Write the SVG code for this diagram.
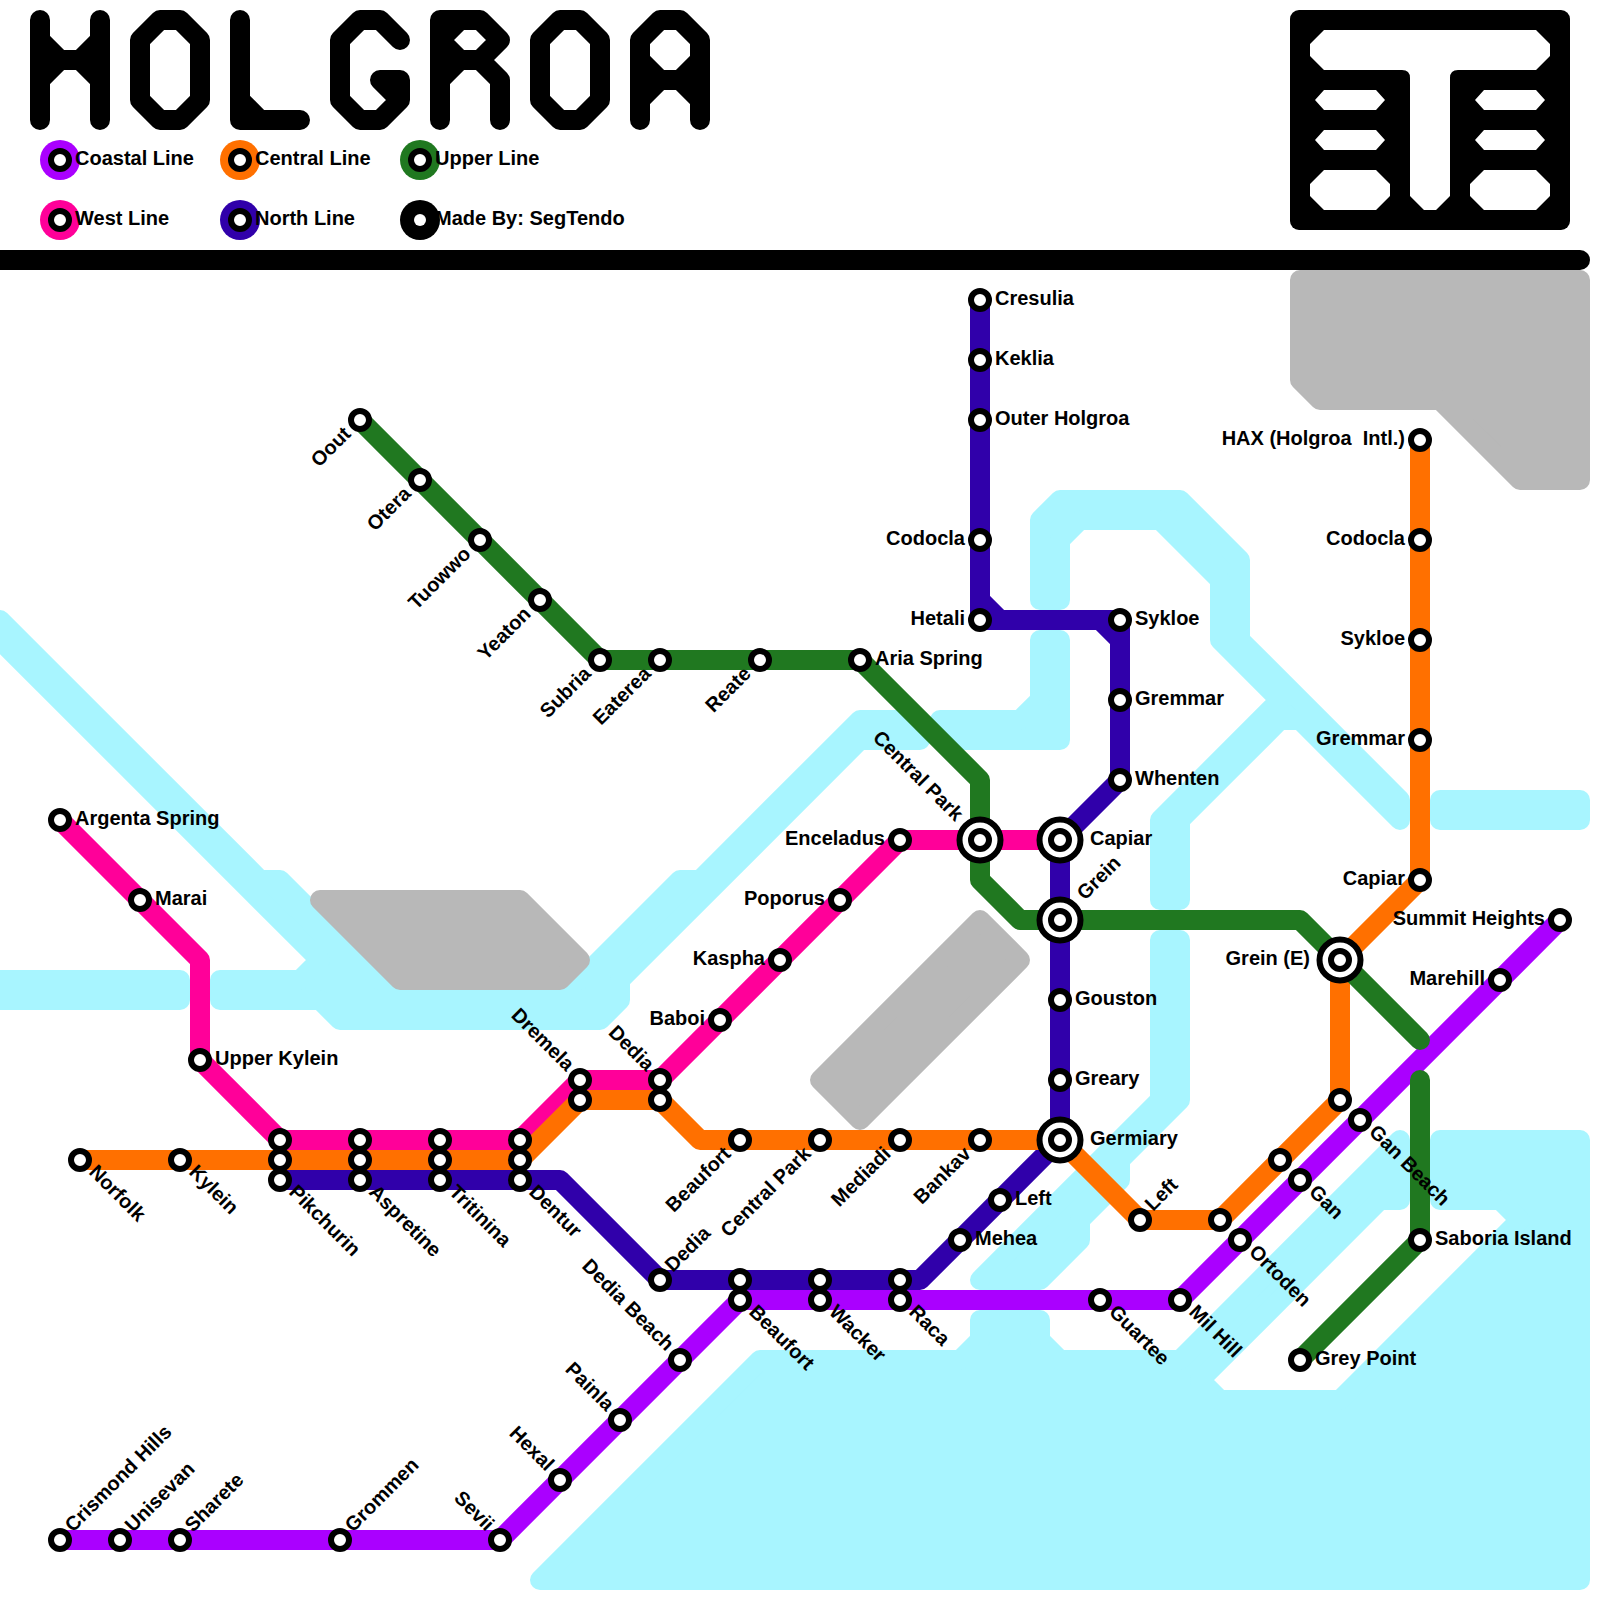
<svg xmlns="http://www.w3.org/2000/svg" width="1600" height="1600" viewBox="0 0 1600 1600">
<style>
text{font-family:"Liberation Sans",Arial,sans-serif;font-weight:bold;font-size:20px;fill:#000;white-space:pre}
.e{text-anchor:end}
.w{fill:#A8F5FF;stroke:#A8F5FF;stroke-width:20;stroke-linejoin:round}
.g{fill:#B8B8B8;stroke:#B8B8B8;stroke-width:20;stroke-linejoin:round}
.l{fill:none;stroke-width:20;stroke-linejoin:round;stroke-linecap:round}
.t{fill:none;stroke:#000;stroke-width:20;stroke-linejoin:round;stroke-linecap:round}
.s{fill:#fff;stroke:#000;stroke-width:6}
.b{fill:#fff;stroke:#000;stroke-width:6}
.cp{stroke:#AA00FF}.co{stroke:#FF7000}.cg{stroke:#207820}.cw{stroke:#FF0099}.cn{stroke:#3000AA}
</style>
<defs>
<circle id="st" class="s" r="9"/>
<g id="big"><circle class="b" r="20.5"/><circle class="s" r="9"/></g>
</defs>
<g id="water">
<path class="w" d="M0 620L260 880H280L380 980H580L680 880H700L860 720H920V740H860L620 980V1000L600 1020H340L320 1000H220V980H300L320 960L0 640Z"/>
<path class="w" d="M-20 980H180V1000H-20Z"/>
<path class="w" d="M1040 520L1060 500H1180L1240 560V640L1400 800V820L1300 720H1280L1180 820V900H1160V820L1280 700L1220 640V580L1160 520H1080L1060 540V600H1040Z"/>
<path class="w" d="M1040 640H1060V740H960L940 720H1020L1040 700Z"/>
<path class="w" d="M1440 800H1580V820H1440Z"/>
<path class="w" d="M1160 940H1180V1100L1120 1160V1180L1080 1220V1240L1040 1280H980L1160 1100Z"/>
<path class="w" d="M540 1580L760 1360H960L980 1340V1320H1040V1340L1060 1360H1180L1400 1140V1200H1380L1200 1380L1220 1400H1340L1520 1220L1500 1200H1440V1140H1580V1580Z"/>
</g>
<g id="land">
<path class="g" d="M1300 280H1580V480H1520L1440 400H1320L1300 380Z"/>
<path class="g" d="M320 900H520L580 960L560 980H400Z"/>
<path class="g" d="M980 920L1020 960L860 1120L820 1080Z"/>
</g>
<g id="title">
<path class="t" d="M40 20V120M100 20V120M40 60H100M40 40L60 60H80L100 40M40 80L60 60M80 60L100 80"/>
<path class="t" d="M140 40L160 20H180L200 40V100L180 120H160L140 100Z"/>
<path class="t" d="M240 20V120H300M240 100L260 120"/>
<path class="t" d="M400 40L380 20H360L340 40V100L360 120H380L400 100V80H380L400 100"/>
<path class="t" d="M440 120V20H480L500 40L480 60L500 80V120M440 60H480M440 40L460 20M440 40L460 60M440 80L460 60"/>
<path class="t" d="M540 40L560 20H580L600 40V100L580 120H560L540 100Z"/>
<path class="t" d="M640 120V40L660 20H680L700 40V120M640 80H700M640 60L660 80M700 60L680 80M640 100L660 80M700 100L680 80"/>
</g>
<g id="logo">
<rect x="1290" y="10" width="280" height="220" rx="9" fill="#000"/>
<path fill="#fff" d="M1324 30H1536L1550 44V56L1536 70H1458Q1450 70 1450 78V196L1436 210H1424L1410 196V78Q1410 70 1402 70H1324L1310 56V44Z"/>
<path fill="#fff" d="M1324 90H1376L1385 100L1376 110H1324L1315 100ZM1324 130H1376L1385 140L1376 150H1324L1315 140ZM1324 170H1376L1390 184V196L1376 210H1324L1310 196V184ZM1484 90H1536L1545 100L1536 110H1484L1475 100ZM1484 130H1536L1545 140L1536 150H1484L1475 140ZM1484 170H1536L1550 184V196L1536 210H1484L1470 196V184Z"/>
</g>
<path id="divider" class="t" d="M-20 260H1580"/>
<g id="legend">
<g id="legend-coastal"><circle cx="60" cy="160" r="20" fill="#AA00FF"/><use href="#st" x="60" y="160"/><text x="75" y="165">Coastal Line</text></g>
<g id="legend-central"><circle cx="240" cy="160" r="20" fill="#FF7000"/><use href="#st" x="240" y="160"/><text x="255" y="165">Central Line</text></g>
<g id="legend-upper"><circle cx="420" cy="160" r="20" fill="#207820"/><use href="#st" x="420" y="160"/><text x="435" y="165">Upper Line</text></g>
<g id="legend-west"><circle cx="60" cy="220" r="20" fill="#FF0099"/><use href="#st" x="60" y="220"/><text x="75" y="225">West Line</text></g>
<g id="legend-north"><circle cx="240" cy="220" r="20" fill="#3000AA"/><use href="#st" x="240" y="220"/><text x="255" y="225">North Line</text></g>
<g id="legend-credit"><circle cx="420" cy="220" r="20" fill="#000"/><circle cx="420" cy="220" r="6" fill="#fff"/><text x="435" y="225">Made By: SegTendo</text></g>
</g>
<g id="connectors">
<path id="north-line" class="l cn" d="M980 300V600L1000 620H1100L1120 640V780L1060 840V1140L920 1280H660L560 1180H280M980 600V620H1000M1100 620H1120V640"/>
<path id="west-line" class="l cw" d="M60 820L200 960V1060L280 1140H520L580 1080H660L900 840H1060"/>
<path id="central-line" class="l co" d="M80 1160H520L580 1100H660L700 1140H1060L1140 1220H1220L1340 1100V960L1420 880V440"/>
<path id="coastal-line" class="l cp" d="M60 1540H500L740 1300H1180L1560 920"/>
<path id="upper-line" class="l cg" d="M360 420L600 660H860L980 780V880L1020 920H1300L1420 1040M1420 1080V1240L1300 1360"/>
</g>
<g id="stations">
<g id="coastal-crismond-hills"><use href="#st" x="60" y="1540"/><text transform="translate(73 1533) rotate(-45)">Crismond Hills</text></g>
<g id="coastal-unisevan"><use href="#st" x="120" y="1540"/><text transform="translate(133 1533) rotate(-45)">Unisevan</text></g>
<g id="coastal-sharete"><use href="#st" x="180" y="1540"/><text transform="translate(193 1533) rotate(-45)">Sharete</text></g>
<g id="coastal-grommen"><use href="#st" x="340" y="1540"/><text transform="translate(353 1533) rotate(-45)">Grommen</text></g>
<g id="coastal-sevii"><use href="#st" x="500" y="1540"/><text class="e" transform="translate(486 1532) rotate(45)">Sevii</text></g>
<g id="coastal-hexal"><use href="#st" x="560" y="1480"/><text class="e" transform="translate(546 1472) rotate(45)">Hexal</text></g>
<g id="coastal-painla"><use href="#st" x="620" y="1420"/><text class="e" transform="translate(606 1412) rotate(45)">Painla</text></g>
<g id="coastal-dedia-beach"><use href="#st" x="680" y="1360"/><text class="e" transform="translate(666 1352) rotate(45)">Dedia Beach</text></g>
<g id="coastal-beaufort"><use href="#st" x="740" y="1300"/><text transform="translate(748 1313) rotate(45)">Beaufort</text></g>
<g id="coastal-wacker"><use href="#st" x="820" y="1300"/><text transform="translate(828 1313) rotate(45)">Wacker</text></g>
<g id="coastal-raca"><use href="#st" x="900" y="1300"/><text transform="translate(908 1313) rotate(45)">Raca</text></g>
<g id="coastal-guartee"><use href="#st" x="1100" y="1300"/><text transform="translate(1108 1313) rotate(45)">Guartee</text></g>
<g id="coastal-mil-hill"><use href="#st" x="1180" y="1300"/><text transform="translate(1188 1313) rotate(45)">Mil Hill</text></g>
<g id="coastal-ortoden"><use href="#st" x="1240" y="1240"/><text transform="translate(1248 1253) rotate(45)">Ortoden</text></g>
<g id="coastal-gan"><use href="#st" x="1300" y="1180"/><text transform="translate(1308 1193) rotate(45)">Gan</text></g>
<g id="coastal-gan-beach"><use href="#st" x="1360" y="1120"/><text transform="translate(1368 1133) rotate(45)">Gan Beach</text></g>
<g id="coastal-marehill"><use href="#st" x="1500" y="980"/><text class="e" x="1485" y="985">Marehill</text></g>
<g id="coastal-summit-heights"><use href="#st" x="1560" y="920"/><text class="e" x="1545" y="925">Summit Heights</text></g>

<g id="central-norfolk"><use href="#st" x="80" y="1160"/><text transform="translate(88 1173) rotate(45)">Norfolk</text></g>
<g id="central-kylein"><use href="#st" x="180" y="1160"/><text transform="translate(188 1173) rotate(45)">Kylein</text></g>
<g id="central-pikchurin"><use href="#st" x="280" y="1160"/></g>
<g id="central-aspretine"><use href="#st" x="360" y="1160"/></g>
<g id="central-tritinina"><use href="#st" x="440" y="1160"/></g>
<g id="central-dentur"><use href="#st" x="520" y="1160"/></g>
<g id="central-dremela"><use href="#st" x="580" y="1100"/></g>
<g id="central-dedia"><use href="#st" x="660" y="1100"/></g>
<g id="central-beaufort"><use href="#st" x="740" y="1140"/><text class="e" transform="translate(732 1155) rotate(-45)">Beaufort</text></g>
<g id="central-central-park"><use href="#st" x="820" y="1140"/><text class="e" transform="translate(812 1155) rotate(-45)">Central Park</text></g>
<g id="central-mediadi"><use href="#st" x="900" y="1140"/><text class="e" transform="translate(892 1155) rotate(-45)">Mediadi</text></g>
<g id="central-bankav"><use href="#st" x="980" y="1140"/><text class="e" transform="translate(972 1155) rotate(-45)">Bankav</text></g>
<g id="central-left"><use href="#st" x="1140" y="1220"/><text transform="translate(1153 1212) rotate(-45)">Left</text></g>
<g id="central-a"><use href="#st" x="1220" y="1220"/></g>
<g id="central-b"><use href="#st" x="1280" y="1160"/></g>
<g id="central-c"><use href="#st" x="1340" y="1100"/></g>
<g id="central-capiar"><use href="#st" x="1420" y="880"/><text class="e" x="1405" y="885">Capiar</text></g>
<g id="central-gremmar"><use href="#st" x="1420" y="740"/><text class="e" x="1405" y="745">Gremmar</text></g>
<g id="central-sykloe"><use href="#st" x="1420" y="640"/><text class="e" x="1405" y="645">Sykloe</text></g>
<g id="central-codocla"><use href="#st" x="1420" y="540"/><text class="e" x="1405" y="545">Codocla</text></g>
<g id="central-hax"><use href="#st" x="1420" y="440"/><text class="e" x="1405" y="445" xml:space="preserve">HAX (Holgroa  Intl.)</text></g>

<g id="west-argenta-spring"><use href="#st" x="60" y="820"/><text x="75" y="825">Argenta Spring</text></g>
<g id="west-marai"><use href="#st" x="140" y="900"/><text x="155" y="905">Marai</text></g>
<g id="west-upper-kylein"><use href="#st" x="200" y="1060"/><text x="215" y="1065">Upper Kylein</text></g>
<g id="west-pikchurin"><use href="#st" x="280" y="1140"/></g>
<g id="west-aspretine"><use href="#st" x="360" y="1140"/></g>
<g id="west-tritinina"><use href="#st" x="440" y="1140"/></g>
<g id="west-dentur"><use href="#st" x="520" y="1140"/></g>
<g id="west-dremela"><use href="#st" x="580" y="1080"/><text class="e" transform="translate(566 1072) rotate(45)">Dremela</text></g>
<g id="west-dedia"><use href="#st" x="660" y="1080"/><text class="e" transform="translate(646 1072) rotate(45)">Dedia</text></g>
<g id="west-baboi"><use href="#st" x="720" y="1020"/><text class="e" x="705" y="1025">Baboi</text></g>
<g id="west-kaspha"><use href="#st" x="780" y="960"/><text class="e" x="765" y="965">Kaspha</text></g>
<g id="west-poporus"><use href="#st" x="840" y="900"/><text class="e" x="825" y="905">Poporus</text></g>
<g id="west-enceladus"><use href="#st" x="900" y="840"/><text class="e" x="885" y="845">Enceladus</text></g>

<g id="north-cresulia"><use href="#st" x="980" y="300"/><text x="995" y="305">Cresulia</text></g>
<g id="north-keklia"><use href="#st" x="980" y="360"/><text x="995" y="365">Keklia</text></g>
<g id="north-outer-holgroa"><use href="#st" x="980" y="420"/><text x="995" y="425">Outer Holgroa</text></g>
<g id="north-codocla"><use href="#st" x="980" y="540"/><text class="e" x="965" y="545">Codocla</text></g>
<g id="north-hetali"><use href="#st" x="980" y="620"/><text class="e" x="965" y="625">Hetali</text></g>
<g id="north-sykloe"><use href="#st" x="1120" y="620"/><text x="1135" y="625">Sykloe</text></g>
<g id="north-gremmar"><use href="#st" x="1120" y="700"/><text x="1135" y="705">Gremmar</text></g>
<g id="north-whenten"><use href="#st" x="1120" y="780"/><text x="1135" y="785">Whenten</text></g>
<g id="north-gouston"><use href="#st" x="1060" y="1000"/><text x="1075" y="1005">Gouston</text></g>
<g id="north-greary"><use href="#st" x="1060" y="1080"/><text x="1075" y="1085">Greary</text></g>
<g id="north-left"><use href="#st" x="1000" y="1200"/><text x="1015" y="1205">Left</text></g>
<g id="north-mehea"><use href="#st" x="960" y="1240"/><text x="975" y="1245">Mehea</text></g>
<g id="north-raca"><use href="#st" x="900" y="1280"/></g>
<g id="north-wacker"><use href="#st" x="820" y="1280"/></g>
<g id="north-beaufort"><use href="#st" x="740" y="1280"/></g>
<g id="north-dedia"><use href="#st" x="660" y="1280"/><text transform="translate(673 1273) rotate(-45)">Dedia</text></g>
<g id="north-dentur"><use href="#st" x="520" y="1180"/><text transform="translate(528 1193) rotate(45)">Dentur</text></g>
<g id="north-tritinina"><use href="#st" x="440" y="1180"/><text transform="translate(448 1193) rotate(45)">Tritinina</text></g>
<g id="north-aspretine"><use href="#st" x="360" y="1180"/><text transform="translate(368 1193) rotate(45)">Aspretine</text></g>
<g id="north-pikchurin"><use href="#st" x="280" y="1180"/><text transform="translate(288 1193) rotate(45)">Pikchurin</text></g>

<g id="upper-oout"><use href="#st" x="360" y="420"/><text class="e" transform="translate(352 435) rotate(-45)">Oout</text></g>
<g id="upper-otera"><use href="#st" x="420" y="480"/><text class="e" transform="translate(412 495) rotate(-45)">Otera</text></g>
<g id="upper-tuowwo"><use href="#st" x="480" y="540"/><text class="e" transform="translate(472 555) rotate(-45)">Tuowwo</text></g>
<g id="upper-yeaton"><use href="#st" x="540" y="600"/><text class="e" transform="translate(532 615) rotate(-45)">Yeaton</text></g>
<g id="upper-subria"><use href="#st" x="600" y="660"/><text class="e" transform="translate(592 675) rotate(-45)">Subria</text></g>
<g id="upper-eaterea"><use href="#st" x="660" y="660"/><text class="e" transform="translate(652 675) rotate(-45)">Eaterea</text></g>
<g id="upper-reate"><use href="#st" x="760" y="660"/><text class="e" transform="translate(752 675) rotate(-45)">Reate</text></g>
<g id="upper-aria-spring"><use href="#st" x="860" y="660"/><text x="875" y="665">Aria Spring</text></g>
<g id="upper-saboria-island"><use href="#st" x="1420" y="1240"/><text x="1435" y="1245">Saboria Island</text></g>
<g id="upper-grey-point"><use href="#st" x="1300" y="1360"/><text x="1315" y="1365">Grey Point</text></g>

<g id="central-park"><use href="#big" x="980" y="840"/><text class="e" transform="translate(955 822) rotate(45)">Central Park</text></g>
<g id="capiar"><use href="#big" x="1060" y="840"/><text x="1090" y="845">Capiar</text></g>
<g id="grein"><use href="#big" x="1060" y="920"/><text transform="translate(1085 901) rotate(-45)">Grein</text></g>
<g id="germiary"><use href="#big" x="1060" y="1140"/><text x="1090" y="1145">Germiary</text></g>
<g id="grein-e"><use href="#big" x="1340" y="960"/><text class="e" x="1310" y="965">Grein (E)</text></g>
</g>
</svg>
